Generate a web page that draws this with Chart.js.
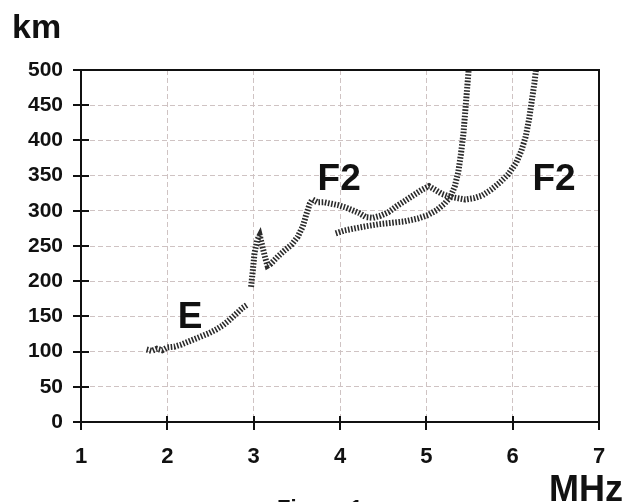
<!DOCTYPE html>
<html>
<head>
<meta charset="utf-8">
<script src="https://cdn.jsdelivr.net/npm/chart.js@4.4.1/dist/chart.umd.min.js"></script>
<style>
  html,body{margin:0;padding:0;background:#fff;}
  #c{display:block;}
</style>
</head>
<body>
<canvas id="c" width="623" height="502"></canvas>
<script>
// ---- data ----
const xTicks = [1, 2, 3, 4, 5, 6, 7];            // MHz
const yTicks = [0, 50, 100, 150, 200, 250, 300, 350, 400, 450, 500]; // km

const eFreq   = [1.76,1.82,1.88,1.94,2.0,2.08,2.16,2.24,2.32,2.4,2.48,2.56,2.64,2.72,2.8,2.87,2.92];
const eHeight = [103,101,104,102,106,107,110,114,118,122,126,131,137,145,154,162,166];

const f2aFreq   = [2.97,2.99,3.01,3.04,3.07,3.1,3.13,3.16,3.2,3.28,3.36,3.44,3.51,3.57,3.61,3.65,3.68,3.74,3.82,3.9,3.98,4.06,4.14,4.22,4.3,4.38,4.47,4.56,4.65,4.75,4.85,4.95,5.03,5.1,5.18,5.27,5.36,5.45,5.55,5.65,5.75,5.85,5.95,6.04,6.1,6.15,6.19,6.22,6.25,6.27];
const f2aHeight = [192,215,240,258,265,250,235,222,225,235,244,252,263,278,295,310,316,312,312,310,308,305,301,297,291,290,293,298,306,314,322,330,335,330,324,320,318,316,318,322,330,340,352,368,385,405,430,455,480,500];

const f2bFreq   = [3.95,4.05,4.17,4.3,4.45,4.6,4.75,4.9,5.02,5.12,5.21,5.28,5.33,5.37,5.4,5.43,5.45,5.47,5.49];
const f2bHeight = [268,272,275,278,281,283,285,289,294,301,310,320,335,355,380,410,440,470,500];

const layerLabels = [
  {text: 'E',  x: 2.12, y: 134},
  {text: 'F2', x: 3.74, y: 329},
  {text: 'F2', x: 6.23, y: 329}
];
const xTitle = 'MHz';
const yTitle = 'km';
const caption = 'Figure 1';

// ---- build datasets ----
function pts(xs, ys){ return xs.map((x,i)=>({x:x, y:ys[i]})); }
const traceStyle = {
  showLine: true, pointRadius: 0, borderWidth: 6, borderColor: '#2b2b2b',
  borderDash: [1.6, 1.6], tension: 0, fill: false
};

const decor = {
  id: 'decor',
  afterDraw(chart){
    const ctx = chart.ctx;
    const xs = chart.scales.x, ys = chart.scales.y;
    const a = chart.chartArea;
    ctx.save();
    // frame top & right
    ctx.strokeStyle = '#111';
    ctx.lineWidth = 2;
    ctx.setLineDash([]);
    ctx.beginPath();
    ctx.moveTo(a.left, a.top); ctx.lineTo(a.right, a.top); ctx.lineTo(a.right, a.bottom);
    ctx.stroke();
    // crossing tick marks
    ctx.lineWidth = 2;
    yTicks.forEach(v=>{
      const p = Math.round(ys.getPixelForValue(v));
      ctx.beginPath(); ctx.moveTo(a.left-8, p); ctx.lineTo(a.left+8, p); ctx.stroke();
    });
    xTicks.forEach(v=>{
      const p = Math.round(xs.getPixelForValue(v));
      ctx.beginPath(); ctx.moveTo(p, a.bottom-6); ctx.lineTo(p, a.bottom+8); ctx.stroke();
    });
    // layer labels
    ctx.fillStyle = '#111';
    ctx.font = 'bold 37px "Liberation Sans", Arial, sans-serif';
    ctx.textBaseline = 'alphabetic';
    ctx.textAlign = 'left';
    layerLabels.forEach(l=>{
      ctx.fillText(l.text, xs.getPixelForValue(l.x), ys.getPixelForValue(l.y));
    });
    // axis titles
    ctx.font = 'bold 34px "Liberation Sans", Arial, sans-serif';
    ctx.fillText(yTitle, 12, 38);
    ctx.font = 'bold 36px "Liberation Sans", Arial, sans-serif';
    ctx.fillText(xTitle, 549, 501);
    ctx.font = 'bold 22px "Liberation Sans", Arial, sans-serif';
    ctx.fillText(caption, 277, 515);
    ctx.restore();
  }
};

new Chart(document.getElementById('c'), {
  type: 'scatter',
  data: {
    datasets: [
      Object.assign({label: 'E',   data: pts(eFreq, eHeight)}, traceStyle),
      Object.assign({label: 'F2a', data: pts(f2aFreq, f2aHeight)}, traceStyle),
      Object.assign({label: 'F2b', data: pts(f2bFreq, f2bHeight)}, traceStyle)
    ]
  },
  options: {
    responsive: false,
    animation: false,
    events: [],
    layout: {padding: {left: 0, right: 24, top: 70, bottom: 0}},
    plugins: {legend: {display: false}, tooltip: {enabled: false}},
    scales: {
      x: {
        type: 'linear', min: 1, max: 7,
        afterFit(s){ s.height = 80; s.paddingLeft = 0; s.paddingRight = 0; },
        afterBuildTicks(s){ s.ticks = xTicks.map(v=>({value:v})); },
        ticks: {color: '#111', padding: 22, font: {family: '"Liberation Sans", Arial, sans-serif', size: 22, weight: 'bold'}},
        grid: {color: '#cfc3c3', lineWidth: 1, drawTicks: false},
        border: {display: true, color: '#111', width: 2, dash: [5, 3]}
      },
      y: {
        type: 'linear', min: 0, max: 500,
        afterFit(s){ s.width = 81; s.paddingTop = 0; s.paddingBottom = 0; },
        afterBuildTicks(s){ s.ticks = yTicks.map(v=>({value:v})); },
        ticks: {color: '#111', padding: 18, font: {family: '"Liberation Sans", Arial, sans-serif', size: 21, weight: 'bold'}},
        grid: {color: '#cfc3c3', lineWidth: 1, drawTicks: false},
        border: {display: true, color: '#111', width: 2, dash: [5, 3]}
      }
    }
  },
  plugins: [decor]
});
</script>
</body>
</html>
